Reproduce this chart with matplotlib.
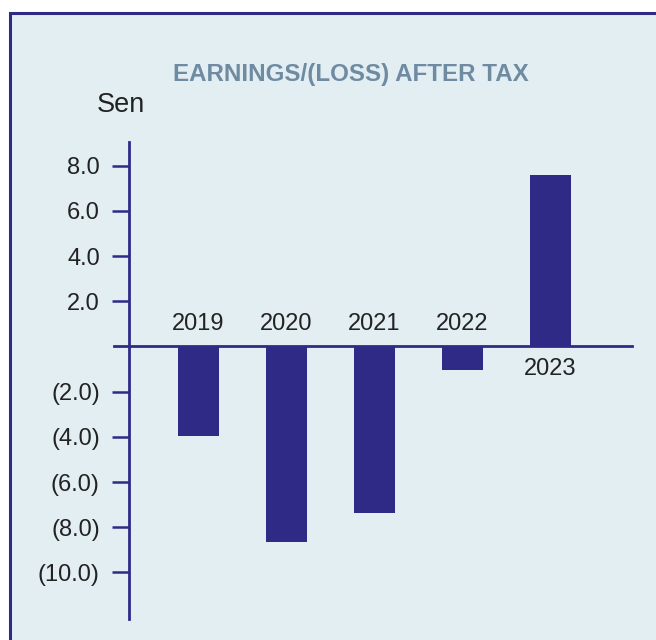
import numpy as np
import matplotlib.pyplot as plt
from matplotlib.patches import Rectangle

# data
years = ['2019', '2020', '2021', '2022', '2023']
eps = [-3.95, -8.65, -7.35, -1.05, 7.6]
tick_vals = [8, 6, 4, 2, -2, -4, -6, -8, -10]

navy = '#2e2a86'
panel = '#e3eef3'
W, H = 656, 640

plt.rcParams['font.family'] = ['Liberation Sans', 'DejaVu Sans']

fig = plt.figure(figsize=(W / 100, H / 100), dpi=100)
fig.patch.set_facecolor('white')

# light blue panel with purple frame (top and left edges visible)
bg = fig.add_axes([0, 0, 1, 1], zorder=0)
bg.set_xlim(0, W)
bg.set_ylim(H, 0)
bg.axis('off')
bg.add_patch(Rectangle((10, 13), W + 20, H + 20, facecolor=panel,
                       edgecolor=navy, linewidth=2.2))

# axes: y-axis at x=129px, spanning y=142..619px
ax = fig.add_axes([129 / W, 21 / H, (632 - 129) / W, (619 - 142) / H], zorder=2)
ax.set_facecolor('none')

x = np.arange(len(years))
ax.bar(x, eps, width=0.47, color=navy, zorder=3)

ax.set_xlim(-0.79, 4.93)
ax.set_ylim(-12.06, 9.05)

# zero line, extends a little left of the y axis
ax.axhline(0, xmin=-0.03, xmax=1, color=navy, linewidth=2, clip_on=False, zorder=4)

for s in ['top', 'right', 'bottom']:
    ax.spines[s].set_visible(False)
ax.spines['left'].set_color(navy)
ax.spines['left'].set_linewidth(2)

ax.set_xticks([])
ax.set_yticks(tick_vals)
ax.set_yticklabels([f'{v:.1f}' if v > 0 else f'({-v:.1f})' for v in tick_vals])
ax.tick_params(axis='y', direction='out', length=12, width=1.8, color=navy,
               pad=9, labelsize=17, labelcolor='#222222')

# year labels: above the axis for losses, below for earnings
for xi, v, yr in zip(x, eps, years):
    if v < 0:
        ax.annotate(yr, (xi, 0), xytext=(0, 8), textcoords='offset points',
                    ha='center', va='bottom', fontsize=17, color='#222222')
    else:
        ax.annotate(yr, (xi, 0), xytext=(0, -8), textcoords='offset points',
                    ha='center', va='top', fontsize=17, color='#222222')

fig.text(351 / W, 1 - 75 / H, 'EARNINGS/(LOSS) AFTER TAX', ha='center', va='center',
         fontsize=17.4, fontweight='bold', color='#6f8ba2')
fig.text(121 / W, 1 - 105 / H, 'Sen', ha='center', va='center',
         fontsize=19.5, color='#222222')

fig.savefig('out.png', dpi=100, facecolor=fig.get_facecolor())
